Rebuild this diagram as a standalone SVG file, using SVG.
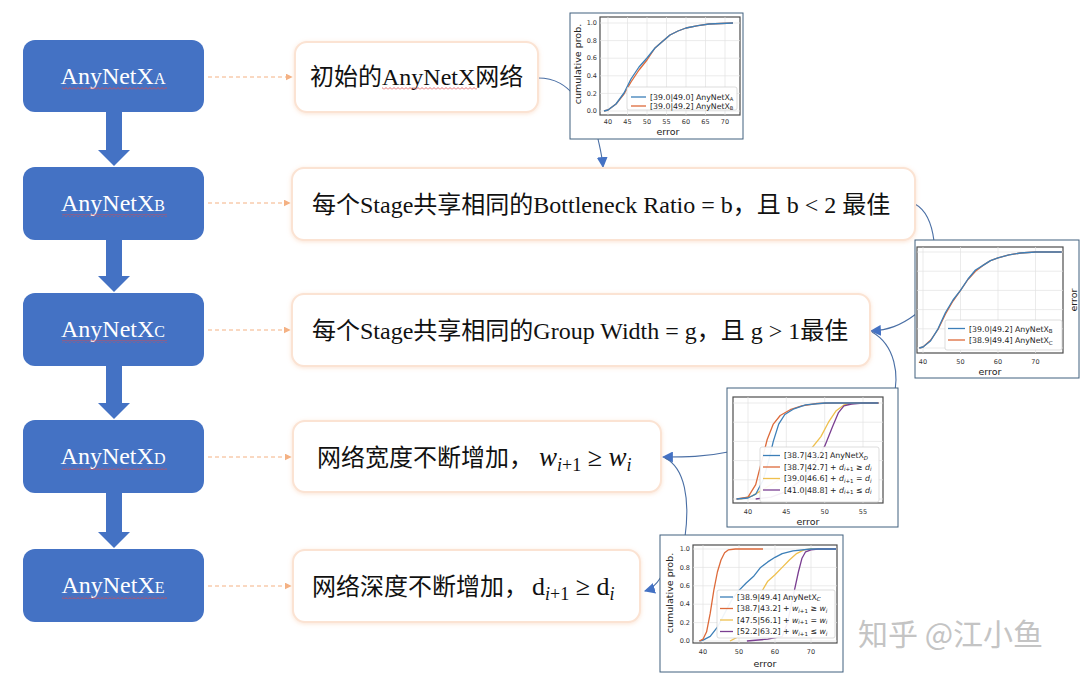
<svg xmlns="http://www.w3.org/2000/svg" width="1092" height="681" viewBox="0 0 1092 681">
<style>
.nbg{fill:#4472C4}
.nlab{font-family:"Liberation Serif",serif;font-size:24px;fill:#fff;text-anchor:middle}
.box{fill:#fff;stroke:#FBE3D3;stroke-width:2;filter:url(#sh)}
.btxt{font-family:"Liberation Serif","Noto Sans CJK SC",serif;font-size:24px;fill:#111}
.math{font-family:"Liberation Serif",serif;fill:#111}
.dash{stroke:#F4B183;stroke-width:1;stroke-dasharray:4 3;fill:none}
.conn{stroke:#4A6FA5;stroke-width:1.1;fill:none}
.blk{fill:#4472C4}
.chart{fill:#fff;stroke:#41607F;stroke-width:1}
.plot{fill:#fff;stroke:#4d4d4d;stroke-width:1.2}
.grid{stroke:#e3e3e3;stroke-width:0.7}
.tk{font-family:"DejaVu Sans",sans-serif;font-size:6.5px;fill:#333}
.ax{font-family:"DejaVu Sans",sans-serif;font-size:9.5px;fill:#222}
.lg{font-family:"DejaVu Sans",sans-serif;font-size:7.8px;fill:#222}
.leg{fill:#fff;fill-opacity:0.92;stroke:#cfcfcf;stroke-width:0.7}
.cb{stroke:#3C7FB8;stroke-width:1.3;fill:none;stroke-linejoin:round}
.co{stroke:#DD6A3A;stroke-width:1.3;fill:none;stroke-linejoin:round}
.cy{stroke:#EFC04E;stroke-width:1.3;fill:none;stroke-linejoin:round}
.cp{stroke:#7A3E91;stroke-width:1.3;fill:none;stroke-linejoin:round}
.wm{font-family:"Noto Sans CJK SC",sans-serif;font-size:30px;fill:#c4c4c4}
</style>
<defs>
<filter id="sh" x="-10%" y="-20%" width="120%" height="140%">
<feDropShadow dx="0" dy="1" stdDeviation="2" flood-color="#F4B183" flood-opacity="0.35"/>
</filter>
<pattern id="wavy" width="4" height="3" patternUnits="userSpaceOnUse">
<path d="M0,2.5 L2,0.5 L4,2.5" stroke="#E04848" stroke-width="0.8" fill="none"/>
</pattern>
<marker id="ao" viewBox="0 0 10 10" refX="9" refY="5" markerWidth="7" markerHeight="7" markerUnits="userSpaceOnUse" orient="auto">
<path d="M0,0 L10,5 L0,10 z" fill="#F4B183"/>
</marker>
<marker id="ab" viewBox="0 0 10 10" refX="9" refY="5" markerWidth="11" markerHeight="11" markerUnits="userSpaceOnUse" orient="auto">
<path d="M0,0 L10,5 L0,10 z" fill="#4472C4"/>
</marker>
</defs>
<rect width="1092" height="681" fill="#fff"/>

<g id="connectors">
<polygon class="blk" points="106,112 122,112 122,150 130,150 114,166 98,150 106,150"/>
<polygon class="blk" points="106,240 122,240 122,276 130,276 114,292 98,276 106,276"/>
<polygon class="blk" points="106,366 122,366 122,403 130,403 114,419 98,403 106,403"/>
<polygon class="blk" points="106,493 122,493 122,532 130,532 114,548 98,532 106,532"/>
<path class="dash" d="M208,77 L292,77" marker-end="url(#ao)"/>
<path class="dash" d="M208,203 L290,203" marker-end="url(#ao)"/>
<path class="dash" d="M208,330 L290,330" marker-end="url(#ao)"/>
<path class="dash" d="M208,457 L291,457" marker-end="url(#ao)"/>
<path class="dash" d="M208,586 L291,586" marker-end="url(#ao)"/>
<path class="conn" d="M538,78 C556,78 566,86 574,95"/>
<path class="conn" d="M598,139 C600,148 602,155 603,167" marker-end="url(#ab)"/>
<path class="conn" d="M915,204 C926,210 932,225 934,241"/>
<path class="conn" d="M916,314 C900,326 888,330 871,331" marker-end="url(#ab)"/>
<path class="conn" d="M893,400 C900,375 895,345 872,332"/>
<path class="conn" d="M728,452 C705,457 685,457 663,457" marker-end="url(#ab)"/>
<path class="conn" d="M685,537 C690,500 685,468 665,458"/>
<path class="conn" d="M661,577 C656,585 652,589 645,591" marker-end="url(#ab)"/>
</g>

<g id="nodeA">
<rect class="nbg" x="23" y="40" width="181" height="72" rx="12"/>
<text class="nlab" x="113" y="84">AnyNetX<tspan font-size="16">A</tspan></text>
<rect x="62" y="87" width="105" height="3" fill="url(#wavy)"/>
</g>
<g id="nodeB">
<rect class="nbg" x="23" y="167" width="181" height="73" rx="12"/>
<text class="nlab" x="113" y="211">AnyNetX<tspan font-size="16">B</tspan></text>
<rect x="62" y="214" width="105" height="3" fill="url(#wavy)"/>
</g>
<g id="nodeC">
<rect class="nbg" x="23" y="293" width="181" height="73" rx="12"/>
<text class="nlab" x="113" y="337">AnyNetX<tspan font-size="16">C</tspan></text>
<rect x="62" y="340" width="105" height="3" fill="url(#wavy)"/>
</g>
<g id="nodeD">
<rect class="nbg" x="23" y="420" width="181" height="73" rx="12"/>
<text class="nlab" x="113" y="464">AnyNetX<tspan font-size="16">D</tspan></text>
<rect x="62" y="467" width="105" height="3" fill="url(#wavy)"/>
</g>
<g id="nodeE">
<rect class="nbg" x="23" y="549" width="181" height="73" rx="12"/>
<text class="nlab" x="113" y="593">AnyNetX<tspan font-size="16">E</tspan></text>
<rect x="62" y="596" width="105" height="3" fill="url(#wavy)"/>
</g>

<g id="box1">
<rect class="box" x="295" y="42" width="243" height="70" rx="12"/>
<text class="btxt" x="310" y="85">初始的AnyNetX网络</text>
<rect x="382" y="87" width="95" height="3" fill="url(#wavy)"/>
</g>
<g id="box2">
<rect class="box" x="292" y="168" width="623" height="72" rx="12"/>
<text class="btxt" x="312" y="213">每个Stage共享相同的Bottleneck Ratio = b，且 b &lt; 2 最佳</text>
</g>
<g id="box3">
<rect class="box" x="292" y="294" width="578" height="72" rx="12"/>
<text class="btxt" x="312" y="339">每个Stage共享相同的Group Width = g，且 g &gt; 1最佳</text>
</g>
<g id="box4">
<rect class="box" x="293" y="421" width="368" height="71" rx="12"/>
<text class="btxt" x="317" y="466">网络宽度不断增加，<tspan class="math" font-style="italic" font-size="27" dx="6">w</tspan><tspan class="math" font-size="18" dy="5"><tspan font-style="italic">i</tspan>+1</tspan><tspan class="math" font-size="26" dy="-5"> ≥ </tspan><tspan class="math" font-style="italic" font-size="27">w</tspan><tspan class="math" font-style="italic" font-size="18" dy="5">i</tspan></text>
</g>
<g id="box5">
<rect class="box" x="293" y="550" width="347" height="72" rx="12"/>
<text class="btxt" x="312" y="595">网络深度不断增加，<tspan class="math" font-size="26" dx="4">d</tspan><tspan class="math" font-size="18" dy="5"><tspan font-style="italic">i</tspan>+1</tspan><tspan class="math" font-size="26" dy="-5"> ≥ d</tspan><tspan class="math" font-style="italic" font-size="18" dy="5">i</tspan></text>
</g>

<g id="chart1">
<rect class="chart" x="570" y="13" width="173" height="126"/>
<rect class="plot" x="600" y="17" width="140" height="98"/>
<g class="grid">
<path d="M608,17V115M627.5,17V115M647,17V115M666.5,17V115M686,17V115M705.5,17V115M725,17V115"/>
<path d="M600,111H740M600,93.4H740M600,75.8H740M600,58.2H740M600,40.6H740M600,23H740"/>
</g>
<g class="tk" text-anchor="end">
<text x="597" y="113">0.0</text><text x="597" y="95.6">0.2</text><text x="597" y="78">0.4</text><text x="597" y="60.4">0.6</text><text x="597" y="42.8">0.8</text><text x="597" y="25.2">1.0</text>
</g>
<g class="tk" text-anchor="middle">
<text x="608" y="124">40</text><text x="627.5" y="124">45</text><text x="647" y="124">50</text><text x="666.5" y="124">55</text><text x="686" y="124">60</text><text x="705.5" y="124">65</text><text x="725" y="124">70</text>
</g>
<text class="ax" x="668" y="135" text-anchor="middle">error</text>
<text class="ax" x="0" y="0" text-anchor="middle" font-size="10" transform="translate(581,64) rotate(-90)">cumulative prob.</text>
<polyline class="co" points="604,111 608,110 616,104 624,94 631,82 639,70 647,60 655,48 663,41 670,35 678,31 686,28 698,25.6 709,24 733,23"/>
<polyline class="cb" points="604,111 608,110 616,104 624,93 631,79 639,67 647,58 655,48 663,41 670,35 678,31 686,28 698,25.6 709,24 733,23"/>
<rect class="leg" x="627" y="87" width="110" height="23" rx="2"/>
<path class="cb" d="M631,97H646"/><path class="co" d="M631,106H646"/>
<text class="lg" x="650" y="99.5" font-size="7.3">[39.0|49.0] AnyNetX<tspan font-size="5.2" dy="1.5">A</tspan></text>
<text class="lg" x="650" y="108.5" font-size="7.3">[39.0|49.2] AnyNetX<tspan font-size="5.2" dy="1.5">B</tspan></text>
</g>

<g id="chart2">
<rect class="chart" x="915" y="240" width="164" height="138"/>
<rect class="plot" x="917" y="247" width="146" height="106"/>
<g class="grid">
<path d="M923,247V353M960.5,247V353M998,247V353M1035.5,247V353"/>
<path d="M917,348H1063M917,328.8H1063M917,309.6H1063M917,290.4H1063M917,271.2H1063M917,252H1063"/>
</g>
<g class="tk" text-anchor="middle" font-size="7">
<text x="923" y="364">40</text><text x="960.5" y="364">50</text><text x="998" y="364">60</text><text x="1035.5" y="364">70</text>
</g>
<text class="ax" x="990" y="375" text-anchor="middle" font-size="10.5">error</text>
<text class="ax" x="0" y="0" text-anchor="middle" font-size="10.5" transform="translate(1077,300) rotate(-90)">error</text>
<polyline class="co" points="919.3,348 923,347 930.5,340.3 938,329.5 945.5,314 953,301 960.5,290.4 968,279.5 975.5,271.2 983,265.4 990.5,260.6 998,257.8 1009,254.9 1020.5,253 1035.5,252 1061.8,252"/>
<polyline class="cb" points="919.3,348 923,347 930.5,341 938,328.8 945.5,312.5 953,300 960.5,290.4 968,279 975.5,270 983,265.4 990.5,260.6 998,257.8 1009,254.9 1020.5,253 1035.5,252 1061.8,252"/>
<rect class="leg" x="945" y="320" width="117" height="30" rx="2"/>
<path class="cb" d="M948,328.5H965"/><path class="co" d="M948,340H965"/>
<text class="lg" x="969" y="331.5">[39.0|49.2] AnyNetX<tspan font-size="5.5" dy="1.5">B</tspan></text>
<text class="lg" x="969" y="343">[38.9|49.4] AnyNetX<tspan font-size="5.5" dy="1.5">C</tspan></text>
</g>

<g id="chart3">
<rect class="chart" x="727" y="388" width="171" height="139"/>
<rect class="plot" x="733" y="397" width="150" height="106"/>
<g class="grid">
<path d="M748,397V503M786.3,397V503M824.7,397V503M863,397V503"/>
<path d="M733,499H883M733,479.8H883M733,460.6H883M733,441.4H883M733,422.2H883M733,403H883"/>
</g>
<g class="tk" text-anchor="middle" font-size="7">
<text x="748" y="514">40</text><text x="786.3" y="514">45</text><text x="824.7" y="514">50</text><text x="863" y="514">55</text>
</g>
<text class="ax" x="808" y="525" text-anchor="middle" font-size="10.5">error</text>
<polyline class="cy" points="740.3,499 751.8,496.1 763.3,489.4 778.7,479.8 794,470.2 809.4,451 820.9,436.6 828.5,422.2 836.2,410.7 843.9,404.9 855.4,403 878.4,403"/>
<polyline class="cp" points="755.7,499 771,497.1 786.4,491.3 801.7,479.8 813.2,465.4 824.7,446.2 832.4,427 838.5,412.6 843.9,405.9 851.5,404 863,403 878.4,403"/>
<polyline class="co" points="736.5,499 748,497.1 755.7,484.6 761.8,460.6 767.2,439.5 773.3,424.1 780.2,415.5 790.2,409.7 801.7,405.9 817,403.5 832.4,403 878.4,403"/>
<polyline class="cb" points="736.5,499 748,498 755.7,494.2 763.3,479.8 768.7,460.6 773.3,441.4 778.7,424.1 784.8,414.5 794,408.8 805.5,404.9 824.7,403 878.4,403"/>
<rect class="leg" x="760" y="447" width="119" height="55" rx="2"/>
<path class="cb" d="M763,455.5H780"/><path class="co" d="M763,467H780"/><path class="cy" d="M763,478.5H780"/><path class="cp" d="M763,490H780"/>
<text class="lg" x="784" y="458.3">[38.7|43.2] AnyNetX<tspan font-size="5.5" dy="1.5" font-style="italic">D</tspan></text>
<text class="lg" x="784" y="469.8">[38.7|42.7] + <tspan font-style="italic">d</tspan><tspan font-size="5.5" dy="1.5"><tspan font-style="italic">i</tspan>+1</tspan><tspan dy="-1.5"> ≥ </tspan><tspan font-style="italic">d</tspan><tspan font-size="5.5" dy="1.5" font-style="italic">i</tspan></text>
<text class="lg" x="784" y="481.3">[39.0|46.6] + <tspan font-style="italic">d</tspan><tspan font-size="5.5" dy="1.5"><tspan font-style="italic">i</tspan>+1</tspan><tspan dy="-1.5"> = </tspan><tspan font-style="italic">d</tspan><tspan font-size="5.5" dy="1.5" font-style="italic">i</tspan></text>
<text class="lg" x="784" y="492.8">[41.0|48.8] + <tspan font-style="italic">d</tspan><tspan font-size="5.5" dy="1.5"><tspan font-style="italic">i</tspan>+1</tspan><tspan dy="-1.5"> ≤ </tspan><tspan font-style="italic">d</tspan><tspan font-size="5.5" dy="1.5" font-style="italic">i</tspan></text>
</g>

<g id="chart4">
<rect class="chart" x="660" y="535" width="183" height="137"/>
<rect class="plot" x="693" y="545" width="144" height="98"/>
<g class="grid">
<path d="M703,545V643M739,545V643M775,545V643M811,545V643"/>
<path d="M693,641H837M693,622.6H837M693,604.2H837M693,585.8H837M693,567.4H837M693,549H837"/>
</g>
<g class="tk" text-anchor="end">
<text x="690" y="643">0.0</text><text x="690" y="624.8">0.2</text><text x="690" y="606.4">0.4</text><text x="690" y="588">0.6</text><text x="690" y="569.6">0.8</text><text x="690" y="551.2">1.0</text>
</g>
<g class="tk" text-anchor="middle">
<text x="703" y="654">40</text><text x="739" y="654">50</text><text x="775" y="654">60</text><text x="811" y="654">70</text>
</g>
<text class="ax" x="765" y="667" text-anchor="middle" font-size="10">error</text>
<text class="ax" x="0" y="0" text-anchor="middle" font-size="10" transform="translate(673,593) rotate(-90)">cumulative prob.</text>
<polyline class="cy" points="730,641 739,636.4 746.2,627.2 753.4,613.4 757,599.6 762.4,590.4 767.8,581.2 775,574.8 782.2,567.4 789.4,560 796.6,553.6 803.8,549.9 811,549 836.2,549"/>
<polyline class="cp" points="746.9,641 767.8,639.2 782.2,636.4 787.6,622.6 793,596.8 798.4,572 802,558.2 805.6,551.8 811,549.9 818.2,549 836.2,549"/>
<polyline class="cb" points="699.4,641 703,640.1 710.2,636.4 717.4,627.2 724.6,613.4 731.8,599.6 739,590.4 746.2,583 753.4,576.6 760.6,567.4 767.8,561.9 775,557.3 782.2,553.6 793,550.8 811,549 836.2,549"/>
<polyline class="co" points="699.4,641 703,639.2 706.6,631.8 710.2,613.4 713.8,590.4 717.4,572 721,560 724.6,552.7 728.2,549.9 735.4,549 763,549"/>
<rect class="leg" x="717" y="590" width="118" height="48" rx="2"/>
<path class="cb" d="M720,597H733"/><path class="co" d="M720,608.5H733"/><path class="cy" d="M720,620H733"/><path class="cp" d="M720,631.5H733"/>
<text class="lg" x="737" y="599.8">[38.9|49.4] AnyNetX<tspan font-size="5.5" dy="1.5" font-style="italic">C</tspan></text>
<text class="lg" x="737" y="611.3">[38.7|43.2] + <tspan font-style="italic">w</tspan><tspan font-size="5.5" dy="1.5"><tspan font-style="italic">i</tspan>+1</tspan><tspan dy="-1.5"> ≥ </tspan><tspan font-style="italic">w</tspan><tspan font-size="5.5" dy="1.5" font-style="italic">i</tspan></text>
<text class="lg" x="737" y="622.8">[47.5|56.1] + <tspan font-style="italic">w</tspan><tspan font-size="5.5" dy="1.5"><tspan font-style="italic">i</tspan>+1</tspan><tspan dy="-1.5"> = </tspan><tspan font-style="italic">w</tspan><tspan font-size="5.5" dy="1.5" font-style="italic">i</tspan></text>
<text class="lg" x="737" y="634.3">[52.2|63.2] + <tspan font-style="italic">w</tspan><tspan font-size="5.5" dy="1.5"><tspan font-style="italic">i</tspan>+1</tspan><tspan dy="-1.5"> ≤ </tspan><tspan font-style="italic">w</tspan><tspan font-size="5.5" dy="1.5" font-style="italic">i</tspan></text>
</g>

<g id="watermark">
<text class="wm" x="858" y="645">知乎 @江小鱼</text>
</g>
</svg>
